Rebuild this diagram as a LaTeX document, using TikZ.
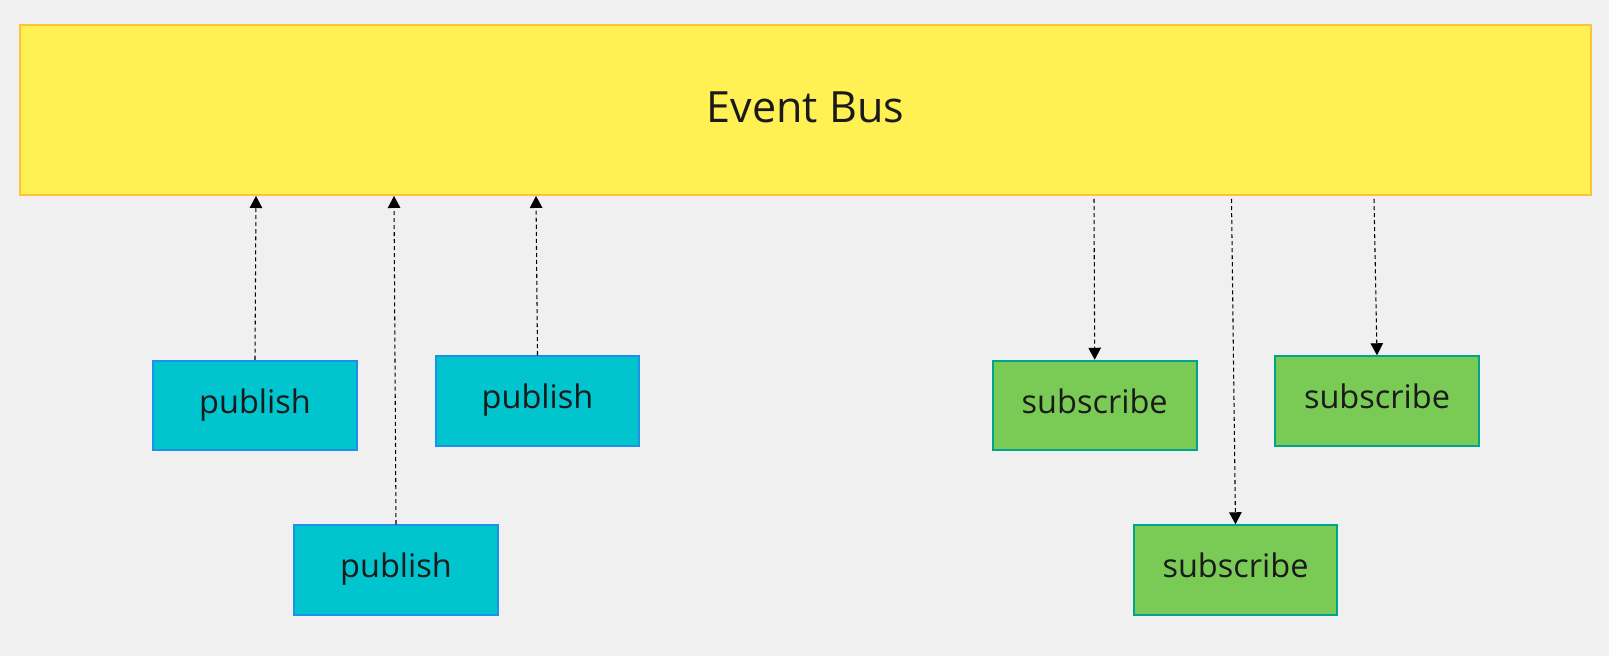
\documentclass[tikz,border=0pt]{standalone}
\usepackage{fontspec}
\setmainfont{Open Sans}
\usetikzlibrary{arrows.meta}
\usetikzlibrary{calc}

\definecolor{paper}{HTML}{F0F0F0}
\definecolor{ink}{HTML}{1A1A1A}
\definecolor{busfill}{HTML}{FFF153}
\definecolor{busline}{HTML}{FBC43A}
\definecolor{pubfill}{HTML}{00C5CE}
\definecolor{publine}{HTML}{1E90E8}
\definecolor{subfill}{HTML}{7ACB55}
\definecolor{subline}{HTML}{00A48A}

\tikzset{
  box/.style={line width=0.04cm, inner sep=0pt, text=ink,
    minimum width=4.08cm, minimum height=1.79cm,
    text height=0.5cm, text depth=0.188cm,
    font=\fontsize{18.5}{22}\selectfont},
  pub/.style={box, draw=publine, fill=pubfill},
  sub/.style={box, draw=subline, fill=subfill},
  bus/.style={draw=busline, fill=busfill, line width=0.04cm, inner sep=0pt,
    text=ink, minimum width=31.42cm, minimum height=3.4cm,
    text height=0.7cm, text depth=0.21cm,
    font=\fontsize{24.5}{29}\selectfont},
  flow/.style={line width=0.6pt, dash pattern=on 2.3pt off 1.7pt,
    -{Triangle[length=0.24cm,width=0.25cm]}}
}

\begin{document}
\begin{tikzpicture}[x=0.02cm,y=-0.02cm]
            \fill[paper] (0,0) rectangle (1609,656);
            \useasboundingbox (0,0) rectangle (1609,656);

            \node[bus] (bus) at (805.5,110) {Event Bus};

            % publishers
            \node[pub] (p1) at (255,405.5) {publish};
            \node[pub] (p2) at (396,570) {publish};
            \node[pub] (p3) at (537.5,401) {publish};

            % subscribers
            \node[sub] (s1) at (1094.7,405.5) {subscribe};
            \node[sub] (s2) at (1235.5,570) {subscribe};
            \node[sub] (s3) at (1377,401) {subscribe};

            \draw[flow] (p1.north) -- ($(p1.north |- bus.south)+(1,0)$);
            \draw[flow] (p2.north) -- ($(p2.north |- bus.south)+(-2,0)$);
            \draw[flow] (p3.north) -- ($(p3.north |- bus.south)+(-1.5,0)$);
            \draw[flow] ($(s1.north |- bus.south)+(-0.7,3)$) -- (s1.north);
            \draw[flow] ($(s2.north |- bus.south)+(-4,3)$) -- (s2.north);
            \draw[flow] ($(s3.north |- bus.south)+(-3,3)$) -- (s3.north);
        \end{tikzpicture}
\end{document}
